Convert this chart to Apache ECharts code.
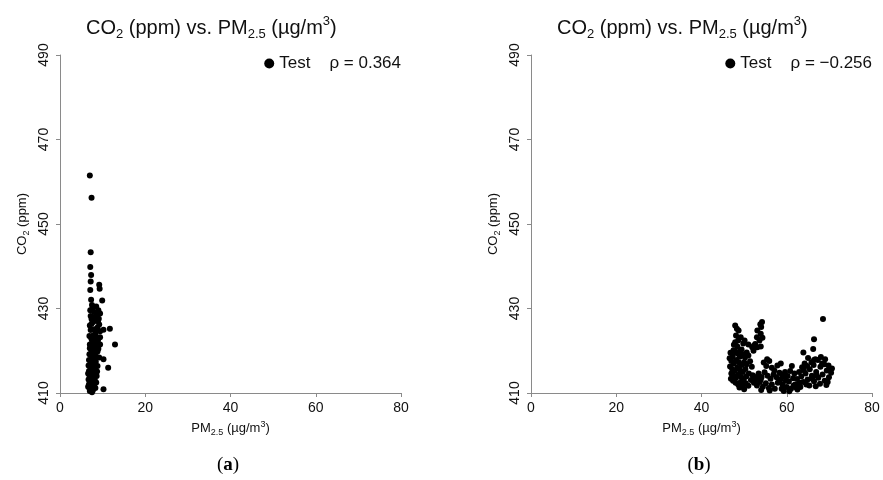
<!DOCTYPE html>
<html><head><meta charset="utf-8">
<script src="https://cdn.jsdelivr.net/npm/echarts@6/dist/echarts.min.js"></script>
<style>html,body{margin:0;padding:0;background:#fff}#c{width:883px;height:480px}</style>
</head><body><div id="c"></div>
<script>
const xTicks = [0, 20, 40, 60, 80];
const yTicks = [410, 430, 450, 470, 490];
const panelLabels = ['a', 'b'];
const seriesName = 'Test';
const rhoValues = ['0.364', '\u22120.256'];

// Panel (a): [PM2.5, CO2]
const testA = [
[7.0,461.5],[7.4,456.2],[7.2,443.3],[7.1,439.8],[7.3,437.9],[7.2,436.4],[7.1,434.4],[9.2,435.6],[9.3,434.7],
[7.3,432.1],[9.9,431.9],[7.5,430.8],[7.6,430.0],[7.1,429.6],[8.0,429.2],[9.0,429.6],[8.6,428.4],[9.4,428.8],[8.2,428.0],[7.4,427.5],
[7.8,426.8],[7.4,426.4],[8.9,427.0],[9.2,426.2],[8.0,425.1],[8.6,424.8],[9.4,424.6],[10.2,425.0],[11.7,425.2],[7.2,424.9],
[7.8,423.6],[8.6,423.2],[9.4,423.2],[8.9,422.4],[7.3,423.0],[12.9,421.5],[7.6,421.7],[8.1,421.2],[8.7,420.9],[9.4,421.5],
[7.0,420.6],[7.6,419.6],[8.1,419.0],[8.5,418.6],[9.2,418.4],[10.2,418.0],[11.3,416.0],[6.9,419.2],[7.3,418.8],[7.8,418.2],
[6.8,417.8],[7.2,417.4],[7.6,417.1],[8.0,416.9],[8.4,417.4],[6.7,416.5],[7.1,416.2],[7.5,415.9],[7.9,415.6],[8.3,416.0],
[8.8,416.4],[6.8,415.2],[7.2,415.0],[7.6,414.7],[8.0,414.5],[8.4,414.9],[6.9,414.2],[7.3,413.9],[7.7,413.6],[8.1,413.4],
[6.7,413.2],[7.0,412.9],[7.4,412.7],[7.8,412.5],[8.2,412.8],[6.8,412.1],[7.2,411.8],[7.6,411.6],[8.0,411.9],[6.9,411.2],
[7.3,410.9],[7.7,410.6],[10.2,410.9],[7.5,410.2],[7.0,410.5],[8.6,414.0],[8.8,419.8],[9.0,420.5],[8.4,421.8],[7.9,422.3],
[7.5,422.5],[8.3,424.0],[8.8,425.5],[9.1,427.6],[7.9,427.8],[7.2,428.2],[8.5,430.5],[7.0,426.0],[6.9,423.5],[7.0,421.5],
[7.5,420.2],[8.2,420.3],[8.6,422.0],[8.0,417.8],[7.4,419.9],[6.6,414.6],[6.6,411.5],[8.3,411.2],[8.5,412.5],[8.7,415.1]
];

// Panel (b): [PM2.5, CO2]
const testB = [
[47.9,426.0],[48.3,425.2],[48.7,424.8],[48.1,423.6],[47.9,422.0],[49.2,423.2],[48.6,422.4],[49.8,421.7],[48.4,421.0],[47.6,421.4],
[50.1,422.4],[51.0,421.5],[51.9,420.8],[52.3,421.2],[49.4,420.3],
[54.2,426.8],[53.8,426.3],[54.0,425.6],[53.1,424.8],[53.9,424.0],[53.0,423.2],[53.6,422.4],[52.6,421.6],[53.1,420.8],[52.2,420.0],[53.9,421.0],[54.3,423.1],
[46.8,419.5],[47.3,418.7],[47.9,419.8],[48.5,419.3],[49.0,418.6],[49.6,419.1],[50.2,418.4],[47.0,417.6],[47.6,417.0],[48.2,417.8],
[48.8,417.2],[49.4,416.6],[50.0,417.3],[50.6,416.8],[46.7,416.3],[47.2,415.7],[47.8,415.2],[48.4,416.0],[49.0,415.5],[49.7,415.0],
[50.3,415.7],[47.0,414.6],[47.5,414.1],[48.1,413.6],[48.7,414.3],[49.3,413.8],[49.9,413.2],[50.5,413.9],[51.1,414.6],[47.4,412.9],
[48.0,412.4],[48.6,412.0],[49.2,412.6],[49.8,411.9],[50.4,412.3],[51.0,411.7],[48.9,411.3],[50.0,410.9],[46.6,418.2],[47.5,420.1],
[49.1,420.2],[50.6,419.6],[51.0,418.9],[51.4,417.5],[46.9,413.4],[51.6,413.1],
[51.8,416.2],[52.5,413.0],[53.2,414.0],[53.9,413.2],[54.6,417.2],[55.2,416.4],[55.9,417.6],[56.5,416.0],[57.1,415.3],[57.8,416.5],
[52.0,414.2],[52.7,413.5],[53.4,414.6],[54.1,413.8],[54.8,414.9],[55.5,414.1],[56.2,413.4],[56.9,414.4],[57.6,413.7],[52.3,412.4],
[53.0,411.8],[53.7,412.6],[54.4,411.5],[55.1,412.3],[55.8,411.2],[56.5,412.0],[57.2,411.0],[57.9,412.4],[54.0,410.7],[56.0,410.6],
[58.3,414.8],[58.6,417.0],[55.4,418.0],
[58.5,413.2],[59.0,412.1],[59.5,413.8],[60.0,411.4],[60.5,412.7],[61.0,411.0],[61.5,413.5],[62.0,412.0],[62.5,410.8],[58.8,411.0],
[59.3,410.5],[60.2,414.0],[60.8,415.2],[61.2,416.4],[61.8,414.6],[62.4,413.3],[62.9,415.0],[59.8,412.9],[60.6,410.4],[61.6,411.8],
[62.2,411.3],[59.6,415.0],[58.9,414.3],[63.0,412.4],
[63.4,413.9],[63.9,412.6],[64.4,414.6],[64.9,413.2],[65.4,415.6],[65.9,414.1],[66.4,412.8],[66.9,415.0],[67.4,413.6],[67.9,416.2],
[68.4,414.4],[68.9,412.9],[69.4,415.3],[69.9,413.7],[70.4,414.8],[63.6,416.1],[64.2,417.0],[64.8,416.4],[65.3,411.8],[65.8,417.3],
[66.3,416.6],[66.8,411.6],[67.3,417.8],[67.8,412.2],[68.3,417.0],[68.8,416.8],[69.3,411.9],[69.8,416.5],[70.2,415.6],[70.6,415.8],
[63.9,419.6],[66.7,418.0],[66.4,417.8],[66.2,420.4],[66.4,422.7],[68.5,427.5],[64.6,412.0],[67.0,414.2],[65.0,418.3],[68.0,418.5],
[69.0,418.0],[63.2,411.4],[66.0,413.4],[69.6,412.6],[64.0,415.4]
];

const FONT = '"Liberation Sans", Arial, sans-serif';
const SERIF = '"Liberation Serif", "DejaVu Serif", serif';
const AXIS_COLOR = '#8a8a8a';
const TEXT_COLOR = '#111';

const titleText = '{n|CO}{s|2}{n| (ppm) vs. PM}{s|2.5}{n| (\u00b5g/m}{p|3}{n|)}';
const titleRich = {
  n: {fontSize: 20, fontFamily: FONT, fontWeight: 'normal', color: TEXT_COLOR, lineHeight: 26},
  s: {fontSize: 13, fontFamily: FONT, fontWeight: 'normal', color: TEXT_COLOR, lineHeight: 13, verticalAlign: 'bottom'},
  p: {fontSize: 13, fontFamily: FONT, fontWeight: 'normal', color: TEXT_COLOR, lineHeight: 16, verticalAlign: 'top'}
};
const nameRich = {
  n: {fontSize: 13, fontFamily: FONT, color: TEXT_COLOR, lineHeight: 17},
  s: {fontSize: 9, fontFamily: FONT, color: TEXT_COLOR, lineHeight: 9, verticalAlign: 'bottom'},
  p: {fontSize: 9, fontFamily: FONT, color: TEXT_COLOR, lineHeight: 12, verticalAlign: 'top'}
};

const grids = [
  {left: 60, top: 55, width: 341, height: 338},
  {left: 531, top: 55, width: 341, height: 338}
];
const datasets = [testA, testB];

const option = {
  animation: false,
  backgroundColor: '#fff',
  title: grids.map(g => ({
    text: titleText, left: g.left + 26, top: 15, padding: 0,
    textStyle: {fontWeight: 'normal', rich: titleRich}
  })),
  legend: grids.map((g, i) => ({
    data: [seriesName], right: 883 - g.left - g.width, top: 55, padding: 0,
    icon: 'circle', itemWidth: 10, itemHeight: 10, itemGap: 5, selectedMode: false,
    formatter: name => '{t|' + name + '}{r|\u03c1 = ' + rhoValues[i] + '}',
    textStyle: {color: TEXT_COLOR, fontSize: 17, fontFamily: FONT,
      rich: {t: {fontSize: 17, fontFamily: FONT, color: TEXT_COLOR},
             r: {fontSize: 17, fontFamily: FONT, color: TEXT_COLOR, padding: [0, 0, 0, 19]}}}
  })),
  grid: grids,
  xAxis: grids.map((g, i) => ({
    type: 'value', gridIndex: i, min: xTicks[0], max: xTicks[xTicks.length - 1],
    interval: xTicks[1] - xTicks[0],
    axisLine: {show: true, onZero: false, lineStyle: {color: AXIS_COLOR, width: 1}},
    axisTick: {show: true, length: 4, lineStyle: {color: AXIS_COLOR}},
    axisLabel: {color: TEXT_COLOR, fontSize: 14, fontFamily: FONT, margin: 8},
    splitLine: {show: false},
    name: '{n|PM}{s|2.5}{n| (\u00b5g/m}{p|3}{n|)}',
    nameLocation: 'middle', nameGap: 26,
    nameTextStyle: {rich: nameRich}
  })),
  yAxis: grids.map((g, i) => ({
    type: 'value', gridIndex: i, min: yTicks[0], max: yTicks[yTicks.length - 1],
    interval: yTicks[1] - yTicks[0],
    axisLine: {show: true, onZero: false, lineStyle: {color: AXIS_COLOR, width: 1}},
    axisTick: {show: true, length: 4, lineStyle: {color: AXIS_COLOR}},
    axisLabel: {color: TEXT_COLOR, fontSize: 14, fontFamily: FONT, rotate: 90, margin: 9},
    splitLine: {show: false},
    name: '{n|CO}{s|2}{n| (ppm)}',
    nameLocation: 'middle', nameGap: 29, nameRotate: 90,
    nameTextStyle: {rich: nameRich}
  })),
  series: datasets.map((d, i) => ({
    name: seriesName, type: 'scatter', xAxisIndex: i, yAxisIndex: i,
    data: d, symbol: 'circle', symbolSize: 6,
    itemStyle: {color: '#000', opacity: 1}
  })),
  graphic: grids.map((g, i) => ({
    type: 'text', x: g.left + 168, y: 465,
    style: {
      text: '{p|(}{b|' + panelLabels[i] + '}{p|)}',
      align: 'center', verticalAlign: 'middle',
      rich: {p: {fontSize: 19, fontFamily: SERIF, fill: '#000'},
             b: {fontSize: 19, fontFamily: SERIF, fontWeight: 'bold', fill: '#000'}}
    }
  }))
};

const chart = echarts.init(document.getElementById('c'), null, {renderer: 'canvas'});
chart.setOption(option);
</script>
</body></html>
